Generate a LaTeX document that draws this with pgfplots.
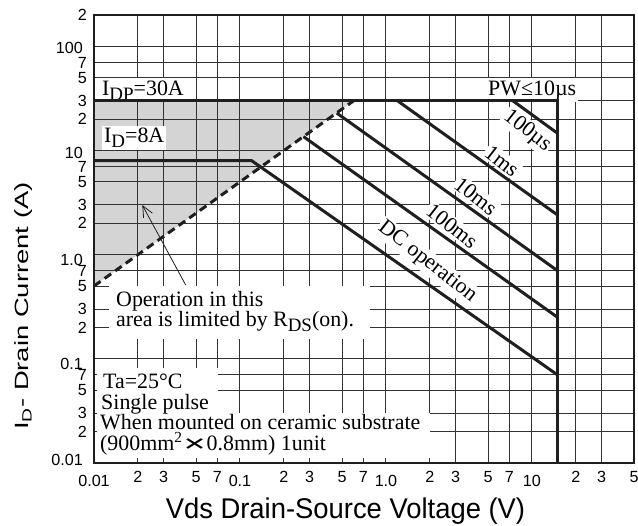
\documentclass[border=0pt]{standalone}
\usepackage{fontspec}
\setmainfont{Liberation Serif}
\setsansfont{Liberation Sans}
\newfontfamily\dejavu{DejaVu Sans}
\usepackage{pgfplots}
\pgfplotsset{compat=1.18}
\usetikzlibrary{arrows.meta}
\definecolor{ink}{gray}{0.12}
\definecolor{gridc}{gray}{0.2}
\definecolor{shade}{gray}{0.83}
\newcommand\xd[1]{\raisebox{-4bp}[\height][0pt]{#1}}
\newcommand\m[1]{\mbox{#1}}
\newcommand\yd[2]{\raisebox{#1}[\height][\depth]{#2}\kern4bp}
\newcommand\lsub[1]{\raisebox{-5bp}{\fontsize{19}{19}\selectfont #1}}
\newcommand\ann{\fontsize{22}{20.5}\selectfont}
\begin{document}
\begin{tikzpicture}
\begin{axis}[
  set layers,
  scale only axis, width=540bp, height=448bp,
  xmode=log, ymode=log,
  xmin=0.01, xmax=50, ymin=0.01, ymax=200,
  clip=false,
  xtick={0.01,0.02,0.03,0.05,0.07,0.1,0.2,0.3,0.5,0.7,1,2,3,5,7,10,20,30,50},
  xticklabels={\xd{0.01},\m{2},\m{3},\m{5},\m{7},\xd{0.1},\m{2},\m{3},\m{5},\m{7},\xd{1.0},\m{2},\m{3},\m{5},\m{7},\xd{10},\m{2},\m{3},\m{5}},
  ytick={0.01,0.02,0.03,0.05,0.07,0.1,0.2,0.3,0.5,0.7,1,2,3,5,7,10,20,30,50,70,100,200},
  yticklabels={\yd{3bp}{0.01},\m{2},\m{3},\m{5},\m{7},\yd{-5bp}{0.1},\m{2},\m{3},\m{5},\m{7},\yd{-5bp}{1.0},\m{2},\m{3},\m{5},\m{7},\yd{-2bp}{10},\m{2},\m{3},\m{5},\m{7},\yd{-2bp}{100},\m{2}},
  grid=major,
  grid style={gridc, line width=1bp},
  major tick length=0pt,
  tick label style={font=\fontsize{16.2}{16.2}\sffamily, inner sep=0pt},
  xticklabel style={yshift=-8.5bp},
  yticklabel style={xshift=-7bp},
  axis line style={ink, line width=1.6bp},
  soa/.style={ink, line width=3bp, line join=miter},
]
% shaded R_DS(on) limited area
\addplot[fill=shade, draw=none, on layer=axis background] coordinates {(0.01,0.5) (0.6,30) (0.01,30)};
% SOA boundaries
\addplot[soa] coordinates {(0.01,30) (15,30) (15,0.01)};
\addplot[soa] coordinates {(0.01,8) (0.12,8) (15,0.07)};
\addplot[soa] coordinates {(7.4,30) (15,14.6)};
\addplot[soa] coordinates {(1.2,30) (15,2.4)};
\addplot[soa] coordinates {(0.46,22.9) (15,0.7)};
\addplot[soa] coordinates {(0.272,13.6) (15,0.25)};
\addplot[ink, line width=3bp, dash pattern=on 8bp off 5bp] coordinates {(0.01,0.5) (0.6,30)};

\begin{pgfonlayer}{pre main}
\fill[white] (axis description cs:0.0278,0.2768) rectangle (axis description cs:0.5111,0.3951);
\fill[white] (axis description cs:0.0056,0.1116) rectangle (axis description cs:0.2296,0.2121);
\fill[white] (axis description cs:0.0056,0.0112) rectangle (axis description cs:0.6222,0.1116);
\node[fill=white, inner sep=2bp, anchor=base west, font=\ann] at (axis description cs:0.0111,0.8214) {I\lsub{DP}=30A};
\node[fill=white, inner sep=2bp, anchor=base west, font=\ann] at (axis description cs:0.0148,0.7143) {I\lsub{D}=8A};
\node[fill=white, inner sep=2bp, anchor=base west, font=\ann] at (axis description cs:0.7259,0.8214) {PW≤10µs};
\node[fill=white, inner sep=1.5bp, rotate=-38, font=\ann] at (axis description cs:0.802,0.741) {100µs};
\node[fill=white, inner sep=1.5bp, rotate=-38, font=\ann] at (axis description cs:0.7556,0.6741) {1ms};
\node[fill=white, inner sep=1.5bp, rotate=-38, font=\ann] at (axis description cs:0.707,0.596) {10ms};
\node[fill=white, inner sep=1.5bp, rotate=-38, font=\ann] at (axis description cs:0.663,0.529) {100ms};
\node[fill=white, inner sep=1.5bp, rotate=-38, font=\ann] at (axis description cs:0.617,0.449) {DC operation};
\end{pgfonlayer}

\node[anchor=base west, inner sep=0pt, font=\ann] at (axis description cs:0.0407,0.3504) {Operation in this};
\node[anchor=base west, inner sep=0pt, font=\ann] at (axis description cs:0.0407,0.3058) {area is limited by R\lsub{DS}(on).};
\node[anchor=base west, inner sep=0pt, font=\ann] at (axis description cs:0.0167,0.1674) {Ta=25°C};
\node[anchor=base west, inner sep=0pt, font=\ann] at (axis description cs:0.0130,0.1205) {Single pulse};
\node[anchor=base west, inner sep=0pt, font=\ann] at (axis description cs:0.0111,0.0737) {When mounted on ceramic substrate};
\node[anchor=base west, inner sep=0pt, font=\ann] at (axis description cs:0.0111,0.0290) {(900mm\textsuperscript{2}\scalebox{1.6}[1.0]{\dejavu\fontsize{18}{18}\selectfont ✕}0.8mm) 1unit};
\draw[ink, line width=0.8bp, -{Straight Barb[length=11bp,width=10bp]}] (axis description cs:0.1698,0.3973) -- (axis description cs:0.0894,0.5759);

\node[anchor=base, inner sep=0pt, font=\fontsize{27.5}{27.5}\sffamily] at (axis description cs:0.4657,-0.1228) {\scalebox{1}[1.04]{Vds Drain-Source Voltage (V)}};
\node[anchor=base, inner sep=0pt, rotate=90, font=\fontsize{27.5}{27.5}\sffamily] at (axis description cs:-0.1217,0.3504) {\scalebox{1}[0.7]{I\textsubscript{D}- Drain Current (A)}};
\end{axis}
\pgfresetboundingbox
\path ([shift={(-94bp,-62bp)}]current axis.south west) rectangle ([shift={(4bp,15bp)}]current axis.north east);
\end{tikzpicture}
\end{document}
